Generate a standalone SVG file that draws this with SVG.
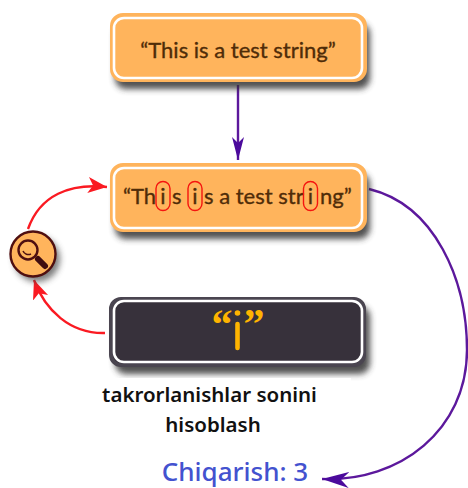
<svg xmlns="http://www.w3.org/2000/svg" width="468" height="488" viewBox="0 0 468 488">
<style>
.box{stroke-width:4}
.inner{fill:none;stroke:#fff;stroke-width:2.6}
.orange{fill:#ffb45c;stroke:#ffb45c}
.dark{fill:#37313b;stroke:#4a4550}
.shadow{fill:#333;opacity:.85}
.t{font-family:"Lato","Noto Sans",sans-serif;font-size:22px;fill:#4f2c08;stroke:#4f2c08;stroke-width:.35}
.m{text-anchor:middle}
.hl{fill:none;stroke:#f5140f;stroke-width:1.4}
.lbl{font-family:"Noto Sans","Open Sans",sans-serif;font-weight:600;font-size:20.5px;fill:#111;text-anchor:middle}
.red{fill:none;stroke:#fa1a22;stroke-width:2.4}
.pur{fill:none;stroke:#5c189c;stroke-width:2.4}
.q{font-family:"Liberation Serif",serif;font-size:42px;font-weight:700;fill:#ffb400;text-anchor:middle}
</style>
<defs>
<filter id="sh" x="-15%" y="-30%" width="135%" height="170%"><feGaussianBlur stdDeviation="3"/></filter>
<marker id="ar" markerUnits="userSpaceOnUse" markerWidth="22" markerHeight="18" refX="19" refY="9" orient="auto"><path d="M0 1 L19 9 L0 17 L5 9Z" fill="#fa1a22"/></marker>
<marker id="ap" markerUnits="userSpaceOnUse" markerWidth="24" markerHeight="16" refX="23" refY="8" orient="auto"><path d="M0 2 L23 8 L0 14 L6 8Z" fill="#4b0a9c"/></marker>
<marker id="ap2" markerUnits="userSpaceOnUse" markerWidth="28" markerHeight="18" refX="27" refY="9" orient="auto"><path d="M0 1 L27 9 L0 17 L8 9Z" fill="#4b0a9c"/></marker>
</defs>
<rect width="468" height="488" fill="#fff"/>
<g id="connectors">
<path class="pur" d="M238 85V160" marker-end="url(#ap)"/>
<path class="pur" d="M369 189C435 205 467 280 467 350C467 430 400 482 322 479" marker-end="url(#ap2)"/>
<path class="red" d="M105 333C70 334 45 310 34 280" marker-end="url(#ar)"/>
<path class="red" d="M28 229C40 195 70 183 107 187" marker-end="url(#ar)"/>
</g>
<g id="node-input">
<rect class="shadow" x="115" y="23" width="255" height="66" rx="11" filter="url(#sh)"/>
<rect class="box orange" x="112" y="15" width="253" height="65" rx="11"/>
<rect class="inner" x="114" y="18" width="248" height="60" rx="10"/>
<text class="t m" x="238" y="58">“This is a test string”</text>
</g>
<g id="node-marked">
<rect class="shadow" x="115" y="173" width="255" height="66" rx="11" filter="url(#sh)"/>
<rect class="box orange" x="112" y="165" width="253" height="65" rx="11"/>
<rect class="inner" x="114" y="168" width="248" height="60" rx="10"/>
<text class="t" x="123" y="204">“Th</text>
<text class="t m" x="163" y="204">i</text>
<text class="t" x="172" y="204">s</text>
<text class="t m" x="195" y="204">i</text>
<text class="t" x="204" y="204">s a test str</text>
<text class="t m" x="310.500" y="204">i</text>
<text class="t" x="320" y="204">ng”</text>
<rect class="hl" x="156" y="181.500" width="14" height="29" rx="7"/>
<rect class="hl" x="188" y="181.500" width="14" height="29" rx="7"/>
<rect class="hl" x="303.500" y="181.500" width="14" height="29" rx="7"/>
</g>
<g id="node-search">
<circle cx="37" cy="259" r="23" fill="#444" opacity=".7" filter="url(#sh)"/>
<circle cx="33" cy="254" r="22.500" fill="#ffb45c" stroke="#4f0f10" stroke-width="2.400"/>
<circle cx="28" cy="250" r="9.500" fill="none" stroke="#4f0f10" stroke-width="2.400"/>
<path d="M23 251A6 6 0 0 0 31 254" fill="none" stroke="#4f0f10" stroke-width="1.500"/>
<path d="M38 259L45 266" stroke="#3f0c10" stroke-width="6" stroke-linecap="round"/>
</g>
<g id="node-pattern">
<rect class="shadow" x="115" y="306" width="255" height="68" rx="11" filter="url(#sh)"/>
<rect class="box dark" x="111" y="299" width="253" height="66" rx="10"/>
<rect class="inner" x="114" y="301" width="248" height="61" rx="10"/>
<text class="q" x="222" y="338">“</text>
<text class="q" x="254" y="338">”</text>
<circle cx="237.500" cy="313" r="2.800" fill="#ffb400"/>
<path d="M237.500 324V348" stroke="#ffb400" stroke-width="4.600" stroke-linecap="round"/>
</g>
<g id="labels">
<rect x="100" y="378" width="251" height="60" fill="#fff"/>
<text class="lbl" x="209.500" y="402">takrorlanishlar sonini</text>
<text class="lbl" x="213" y="432">hisoblash</text>
<text x="235" y="481" font-family="Noto Sans,Open Sans,sans-serif" font-weight="500" font-size="26" fill="#4352cf" text-anchor="middle">Chiqarish: 3</text>
</g>
</svg>
